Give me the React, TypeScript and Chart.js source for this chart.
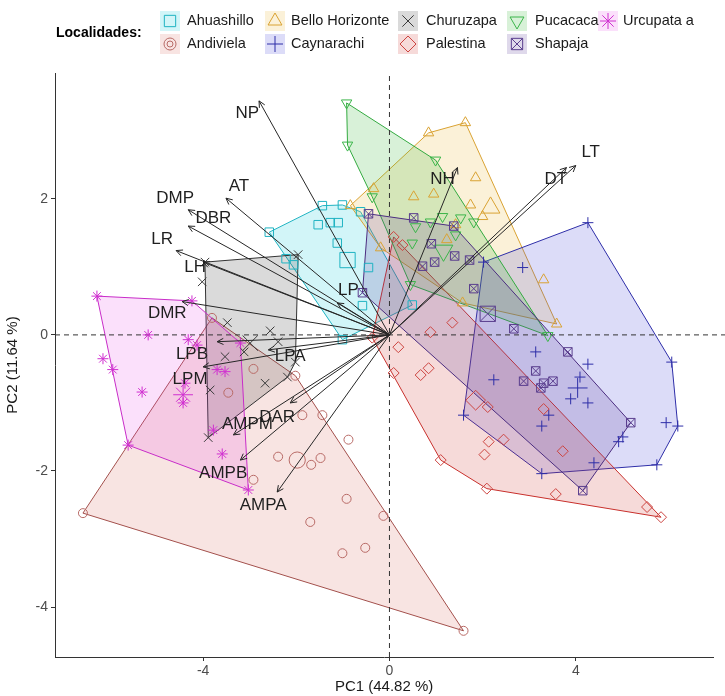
import React, { useEffect, useRef } from "react";
import { Chart, registerables } from "chart.js";

Chart.register(...registerables);

// ---------- DATA ----------
const groupNames = ["Ahuashillo", "Andiviela", "Bello Horizonte", "Caynarachi", "Churuzapa", "Palestina", "Pucacaca", "Shapaja", "Urcupata a"];

const ahuashillo = [[-2.58, 1.51], [-1.44, 1.9], [-1.01, 1.91], [-0.62, 1.81], [-1.53, 1.62], [-1.27, 1.65], [-1.1, 1.65], [-1.12, 1.35], [-2.22, 1.12], [-2.06, 1.03], [-0.45, 0.99], [-0.58, 0.43], [0.49, 0.44], [-1.01, -0.07]];
const ahuashilloHull = [0, 1, 2, 3, 12, 13];
const ahuashilloMean = [-0.9, 1.1];

const andiviela = [[-6.58, -2.62], [-3.81, 0.25], [-2.02, -0.6], [1.59, -4.35], [-2.92, -0.5], [-3.46, -0.85], [-1.87, -1.18], [-1.44, -1.18], [-0.88, -1.54], [-2.39, -1.79], [-1.68, -1.91], [-1.48, -1.81], [-2.92, -2.13], [-0.92, -2.41], [-1.7, -2.75], [-0.13, -2.66], [-1.01, -3.21], [-0.52, -3.13]];
const andivielaHull = [0, 1, 2, 3];
const andivielaMean = [-1.98, -1.84];

const belloHorizonte = [[-0.84, 1.9], [0.84, 2.97], [1.63, 3.12], [3.59, 0.16], [1.57, 0.47], [-0.19, 1.28], [-0.34, 2.15], [1.85, 2.31], [0.52, 2.03], [0.95, 2.07], [1.74, 1.91], [2.0, 1.74], [3.31, 0.81], [1.42, 1.62], [1.23, 1.4]];
const belloHorizonteHull = [0, 1, 2, 3, 4, 5];
const belloHorizonteMean = [2.17, 1.87];

const caynarachi = [[4.26, 1.65], [6.06, -0.4], [6.19, -1.34], [5.74, -1.91], [3.27, -2.04], [1.59, -1.18], [2.02, 1.07], [2.86, 0.99], [3.14, -0.25], [2.24, -0.66], [4.26, -0.43], [4.09, -0.62], [3.89, -0.94], [4.26, -1.0], [3.42, -1.18], [3.27, -1.34], [5.01, -1.5], [4.39, -1.88], [5.94, -1.29], [4.92, -1.57]];
const caynarachiHull = [0, 1, 2, 3, 4, 5, 6];
const caynarachiMean = [4.04, -0.78];

const churuzapa = [[-3.96, 1.07], [-1.96, 1.18], [-2.02, -0.4], [-2.19, -0.62], [-3.89, -1.51], [-4.02, 0.78], [-3.48, 0.18], [-2.56, 0.06], [-2.39, -0.1], [-3.53, -0.32], [-2.67, -0.71], [-3.85, -0.81], [-3.12, -0.25]];
const churuzapaHull = [0, 1, 2, 3, 4];
const churuzapaMean = [-2.99, -0.12];

const palestina = [[0.09, 1.44], [5.83, -2.68], [5.53, -2.53], [3.57, -2.34], [2.09, -2.26], [1.1, -1.84], [-0.37, -0.04], [0.88, 0.04], [1.35, 0.18], [0.19, -0.18], [0.09, -0.56], [0.67, -0.59], [0.84, -0.49], [2.11, -1.06], [3.31, -1.09], [3.72, -1.71], [2.13, -1.57], [2.45, -1.54], [2.04, -1.76], [0.28, 1.32]];
const palestinaHull = [0, 1, 4, 5, 6];
const palestinaMean = [1.85, -0.96];

const pucacaca = [[-0.92, 3.41], [0.99, 2.57], [3.4, -0.01], [0.45, 0.74], [-0.37, 2.03], [-0.9, 2.79], [0.56, 1.59], [1.14, 1.74], [1.53, 1.72], [1.81, 1.66], [0.49, 1.35], [0.88, 1.66], [1.42, 1.47]];
const pucacacaHull = [0, 1, 2, 3, 4, 5];
const pucacacaMean = [1.16, 1.24];

const shapaja = [[-0.45, 1.78], [1.38, 1.6], [5.18, -1.29], [4.15, -2.29], [-0.58, 0.62], [0.52, 1.72], [0.9, 1.34], [0.97, 1.07], [1.4, 1.16], [0.71, 1.01], [1.72, 1.1], [1.81, 0.68], [2.67, 0.09], [3.83, -0.25], [3.14, -0.53], [2.88, -0.68], [3.31, -0.71], [3.51, -0.68], [3.25, -0.78]];
const shapajaHull = [0, 1, 2, 3, 4];
const shapajaMean = [2.11, 0.31];

const urcupata = [[-6.28, 0.57], [-4.24, 0.5], [-3.2, -0.12], [-3.03, -2.28], [-5.61, -1.62], [-5.18, 0.0], [-6.15, -0.35], [-5.94, -0.51], [-5.31, -0.84], [-4.32, -0.07], [-4.13, -0.15], [-3.7, -0.51], [-3.53, -0.54], [-4.39, -0.71], [-3.78, -1.4], [-3.59, -1.75], [-4.43, -1.0]];
const urcupataHull = [0, 1, 2, 3, 4];
const urcupataMean = [-4.43, -0.88];

const varNames = ["NP", "AT", "DMP", "DBR", "LR", "LH", "LP", "NH", "DT", "LT", "DMR", "LPB", "LPM", "LPA", "DAR", "AMPM", "AMPB", "AMPA"];
const varPC1 = [-2.8, -3.51, -4.32, -4.32, -4.58, -4.0, -1.12, 1.46, 3.8, 4.0, -4.45, -3.7, -4.0, -2.6, -2.13, -3.35, -3.2, -2.41];
const varPC2 = [3.44, 2.01, 1.84, 1.6, 1.24, 1.07, 0.47, 2.46, 2.46, 2.49, 0.49, -0.1, -0.47, -0.22, -1.0, -1.47, -1.84, -2.31];
const labelPC1 = [-3.05, -3.23, -4.6, -3.78, -4.88, -4.17, -0.88, 1.14, 3.57, 4.32, -4.77, -4.24, -4.28, -2.13, -2.41, -3.05, -3.57, -2.71];
const labelPC2 = [3.26, 2.19, 2.01, 1.71, 1.4, 1.0, 0.66, 2.28, 2.29, 2.68, 0.32, -0.29, -0.65, -0.32, -1.21, -1.32, -2.03, -2.5];

const xLimits = [-7.18, 6.95];
const yLimits = [-4.735, 3.85];
const xTicks = [-4, 0, 4];
const yTicks = [-4, -2, 0, 2];
const hLineEnd = 7.8;

// ---------- STYLES ----------
const FONT = "'Liberation Sans', Arial, Helvetica, sans-serif";

type GStyle = { pts: number[][]; hull: number[]; mean: number[]; color: string; line: string; fill: string; shapes: string[]; r: number; rot: number };

const groups: GStyle[] = [
  { pts: ahuashillo, hull: ahuashilloHull, mean: ahuashilloMean, color: "#1FB3C2", line: "#1FB3C2", fill: "rgba(30,205,220,0.2)", shapes: ["rect"], r: 6, rot: 0 },
  { pts: andiviela, hull: andivielaHull, mean: andivielaMean, color: "#B86A66", line: "#A3504C", fill: "rgba(215,105,95,0.18)", shapes: ["circle"], r: 4.5, rot: 0 },
  { pts: belloHorizonte, hull: belloHorizonteHull, mean: belloHorizonteMean, color: "#D9A232", line: "#D9A232", fill: "rgba(235,185,60,0.2)", shapes: ["triangle"], r: 6, rot: 0 },
  { pts: caynarachi, hull: caynarachiHull, mean: caynarachiMean, color: "#2E2EA8", line: "#2E2EA8", fill: "rgba(60,60,215,0.18)", shapes: ["cross"], r: 5.5, rot: 0 },
  { pts: churuzapa, hull: churuzapaHull, mean: churuzapaMean, color: "#3A3A3A", line: "#333333", fill: "rgba(70,70,70,0.2)", shapes: ["crossRot"], r: 6, rot: 0 },
  { pts: palestina, hull: palestinaHull, mean: palestinaMean, color: "#CC4440", line: "#C8302C", fill: "rgba(205,50,45,0.18)", shapes: ["rectRot"], r: 5.5, rot: 0 },
  { pts: pucacaca, hull: pucacacaHull, mean: pucacacaMean, color: "#3BB54A", line: "#33AA40", fill: "rgba(60,185,60,0.2)", shapes: ["triangle"], r: 6, rot: 180 },
  { pts: shapaja, hull: shapajaHull, mean: shapajaMean, color: "#5A3E8E", line: "#4B2D80", fill: "rgba(95,65,155,0.2)", shapes: ["rect", "crossRot"], r: 6, rot: 0 },
  { pts: urcupata, hull: urcupataHull, mean: urcupataMean, color: "#D030D0", line: "#C82CC8", fill: "rgba(230,60,230,0.16)", shapes: ["star"], r: 5.5, rot: 0 },
];

const legendKeyX = [170, 275, 408, 517, 608];
const legendTextX = [187, 291, 426, 535, 623];
const legendRowY = [21, 44];

function drawSym(ctx: CanvasRenderingContext2D, shape: string, x: number, y: number, r: number, rotDeg: number) {
  const rad = (rotDeg * Math.PI) / 180;
  ctx.beginPath();
  if (shape === "circle") {
    ctx.arc(x, y, r, 0, Math.PI * 2);
  } else if (shape === "rect") {
    const s = r * Math.SQRT1_2;
    ctx.rect(x - s, y - s, 2 * s, 2 * s);
  } else if (shape === "rectRot") {
    ctx.moveTo(x, y - r); ctx.lineTo(x + r, y); ctx.lineTo(x, y + r); ctx.lineTo(x - r, y); ctx.closePath();
  } else if (shape === "triangle") {
    let a = rad;
    ctx.moveTo(x + Math.sin(a) * r, y - Math.cos(a) * r);
    a += (2 * Math.PI) / 3;
    ctx.lineTo(x + Math.sin(a) * r, y - Math.cos(a) * r);
    a += (2 * Math.PI) / 3;
    ctx.lineTo(x + Math.sin(a) * r, y - Math.cos(a) * r);
    ctx.closePath();
  } else {
    const plus = shape === "cross" || shape === "star";
    const xr = shape === "crossRot" || shape === "star";
    if (plus) { ctx.moveTo(x - r, y); ctx.lineTo(x + r, y); ctx.moveTo(x, y - r); ctx.lineTo(x, y + r); }
    if (xr) { const o = r * Math.SQRT1_2; ctx.moveTo(x - o, y - o); ctx.lineTo(x + o, y + o); ctx.moveTo(x - o, y + o); ctx.lineTo(x + o, y - o); }
  }
  ctx.stroke();
}

const arrowsPlugin = {
  id: "pcaArrows",
  afterDatasetsDraw(chart: any) {
    const { ctx, scales } = chart;
    const xs = scales.x, ys = scales.y;
    const ox = xs.getPixelForValue(0), oy = ys.getPixelForValue(0);
    ctx.save();
    ctx.strokeStyle = "#262626";
    ctx.lineWidth = 1;
    varNames.forEach((n, i) => {
      const tx = xs.getPixelForValue(varPC1[i]);
      const ty = ys.getPixelForValue(varPC2[i]);
      ctx.beginPath();
      ctx.moveTo(ox, oy);
      ctx.lineTo(tx, ty);
      const ang = Math.atan2(ty - oy, tx - ox);
      const L = 7, sp = (26 * Math.PI) / 180;
      ctx.moveTo(tx - L * Math.cos(ang - sp), ty - L * Math.sin(ang - sp));
      ctx.lineTo(tx, ty);
      ctx.lineTo(tx - L * Math.cos(ang + sp), ty - L * Math.sin(ang + sp));
      ctx.stroke();
    });
    ctx.fillStyle = "#1f1f1f";
    ctx.font = `17px ${FONT}`;
    ctx.textAlign = "center";
    ctx.textBaseline = "middle";
    varNames.forEach((n, i) => {
      ctx.fillText(n, xs.getPixelForValue(labelPC1[i]), ys.getPixelForValue(labelPC2[i]));
    });
    ctx.restore();
  },
};

const legendPlugin = {
  id: "ggLegend",
  afterDraw(chart: any) {
    const ctx: CanvasRenderingContext2D = chart.ctx;
    ctx.save();
    ctx.textBaseline = "middle";
    ctx.textAlign = "left";
    ctx.fillStyle = "#000";
    ctx.font = `bold 14px ${FONT}`;
    ctx.fillText("Localidades:", 56, 33);
    ctx.font = `14.5px ${FONT}`;
    groupNames.forEach((name, i) => {
      const g = groups[i];
      const col = Math.floor(i / 2), row = i % 2;
      const kx = legendKeyX[col], ky = legendRowY[row];
      ctx.fillStyle = g.fill;
      ctx.fillRect(kx - 10, ky - 10, 20, 20);
      ctx.strokeStyle = g.color;
      ctx.lineWidth = 1;
      g.shapes.forEach((s) => drawSym(ctx, s, kx, ky, s === "circle" ? 6 : 8, g.rot));
      if (g.shapes[0] === "circle") drawSym(ctx, "circle", kx, ky, 3, 0);
      ctx.fillStyle = "#1a1a1a";
      ctx.fillText(name, legendTextX[col], ky);
    });
    ctx.restore();
  },
};

export default function App() {
  const ref = useRef<HTMLCanvasElement>(null);
  useEffect(() => {
    if (!ref.current) return;
    const datasets: any[] = [];
    groups.forEach((g, gi) => {
      const poly = g.hull.map((i) => ({ x: g.pts[i][0], y: g.pts[i][1] }));
      poly.push(poly[0]);
      datasets.push({
        label: groupNames[gi] + " hull",
        data: poly,
        showLine: true,
        fill: "shape",
        backgroundColor: g.fill,
        borderColor: g.line,
        borderWidth: 1,
        pointRadius: 0,
        tension: 0,
        order: 100 - gi,
      });
    });
    datasets.push({
      label: "v0",
      data: [{ x: 0, y: yLimits[0] }, { x: 0, y: yLimits[1] }],
      showLine: true, borderColor: "#333", borderWidth: 1, borderDash: [5, 4], pointRadius: 0, order: 80,
    });
    datasets.push({
      label: "h0",
      data: [{ x: xLimits[0], y: 0 }, { x: hLineEnd, y: 0 }],
      showLine: true, borderColor: "#333", borderWidth: 1, borderDash: [5, 4], pointRadius: 0, order: 80, clip: false,
    });
    groups.forEach((g, gi) => {
      g.shapes.forEach((s, si) => {
        datasets.push({
          label: groupNames[gi] + " pts" + si,
          data: g.pts.map((p) => ({ x: p[0], y: p[1] })),
          showLine: false,
          pointStyle: s,
          pointRadius: g.r,
          pointRotation: g.rot,
          pointBorderColor: g.color,
          pointBackgroundColor: "rgba(0,0,0,0)",
          pointBorderWidth: 1,
          order: 50 - gi,
        });
        datasets.push({
          label: groupNames[gi] + " mean" + si,
          data: [{ x: g.mean[0], y: g.mean[1] }],
          showLine: false,
          pointStyle: s,
          pointRadius: g.r * 1.8,
          pointRotation: g.rot,
          pointBorderColor: g.color,
          pointBackgroundColor: "rgba(0,0,0,0)",
          pointBorderWidth: 1,
          order: 50 - gi,
        });
      });
    });

    Chart.defaults.font.family = FONT;
    const chart = new Chart(ref.current, {
      type: "scatter",
      data: { datasets },
      plugins: [arrowsPlugin, legendPlugin],
      options: {
        animation: false,
        responsive: false,
        events: [],
        layout: { padding: { top: 73, right: 3, left: 0, bottom: 0 } },
        plugins: { legend: { display: false }, tooltip: { enabled: false } },
        scales: {
          x: {
            type: "linear",
            min: xLimits[0],
            max: xLimits[1],
            afterBuildTicks: (s: any) => { s.ticks = xTicks.map((v) => ({ value: v })); },
            afterFit: (s: any) => { s.height = 39; },
            ticks: { color: "#4d4d4d", font: { size: 14 }, padding: 2 },
            grid: { display: true, drawOnChartArea: false, drawTicks: true, tickLength: 4, color: "#333" },
            border: { display: true, color: "#333", width: 1 },
            title: { display: true, text: "PC1 (44.82 %)", color: "#1a1a1a", font: { size: 15 }, padding: { top: 0, bottom: 0 } },
          },
          y: {
            type: "linear",
            min: yLimits[0],
            max: yLimits[1],
            afterBuildTicks: (s: any) => { s.ticks = yTicks.map((v) => ({ value: v })); },
            afterFit: (s: any) => { s.width = 55; },
            ticks: { color: "#4d4d4d", font: { size: 14 }, padding: 3 },
            grid: { display: true, drawOnChartArea: false, drawTicks: true, tickLength: 4, color: "#333" },
            border: { display: true, color: "#333", width: 1 },
            title: { display: true, text: "PC2 (11.64 %)", color: "#1a1a1a", font: { size: 15 }, padding: { top: 4, bottom: 0 } },
          },
        },
      } as any,
    });
    return () => chart.destroy();
  }, []);

  return (
    <div style={{ position: "fixed", left: 0, top: 0, width: 725, height: 696, background: "#fff", overflow: "hidden" }}>
      <canvas ref={ref} width={725} height={696} style={{ width: 725, height: 696, display: "block" }} />
    </div>
  );
}
